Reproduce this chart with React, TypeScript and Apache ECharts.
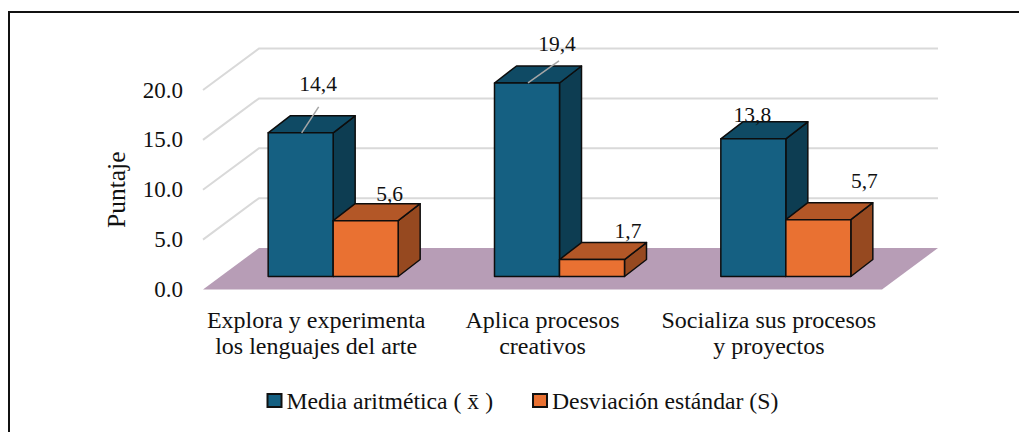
import React, { useEffect, useRef } from "react";
import * as echarts from "echarts";

const categories = [
  "Explora y experimenta\nlos lenguajes del arte",
  "Aplica procesos\ncreativos",
  "Socializa sus procesos\ny proyectos",
];
const mediaValues = [14.4, 19.4, 13.8];
const desviacionValues = [5.6, 1.7, 5.7];
const axisTicks = [5, 10, 15, 20];
const seriesNames = ["Media aritmética ( x̄ )", "Desviación estándar (S)"];

const FONT = "'Liberation Serif', 'Times New Roman', serif";
const DEPTH_X = 56;
const DEPTH_Y = -41.5;
const BAR_W = 65;
const BAR_DX = 22;
const BAR_DY = -17;
const BAR_INSET_X = 17;
const BAR_INSET_Y = -13;

// Manual label placement, as in the source chart: [dx, dy] from the bar's top-centre front edge
const mediaLabelNudge = [
  [17.5, -49],
  [30, -38.5],
  [-1, -24],
];
const desviacionLabelNudge = [
  [24, -27],
  [36, -29],
  [46, -38.5],
];
const mediaLeaders = [
  [17, -26],
  [31, -22],
  null,
];

function barRenderer(
  side: number,
  colors: string[],
  nudges: number[][],
  values: number[],
  leaders: (number[] | null)[],
) {
  return (_params: any, api: any) => {
    const i = api.value(0);
    const v = api.value(1);
    const base = api.coord([i, 0]);
    const top = api.coord([i, v]);
    const left = base[0] + BAR_INSET_X + (side === 0 ? -BAR_W : 0);
    const right = left + BAR_W;
    const yb = base[1] + BAR_INSET_Y;
    const yt = top[1] + BAR_INSET_Y;
    const stroke = { stroke: "#0d0d0d", lineWidth: 1.5, lineJoin: "round" };
    const cx = (left + right) / 2;
    const [nx, ny] = nudges[i];
    const children: any[] = [
      {
        type: "polygon",
        shape: { points: [[right, yb], [right + BAR_DX, yb + BAR_DY], [right + BAR_DX, yt + BAR_DY], [right, yt]] },
        style: { fill: colors[2], ...stroke },
      },
      {
        type: "polygon",
        shape: { points: [[left, yt], [left + BAR_DX, yt + BAR_DY], [right + BAR_DX, yt + BAR_DY], [right, yt]] },
        style: { fill: colors[1], ...stroke },
      },
      {
        type: "rect",
        shape: { x: left, y: yt, width: BAR_W, height: yb - yt },
        style: { fill: colors[0], ...stroke },
      },
    ];
    const leader = leaders[i];
    if (leader) {
      children.push({
        type: "line",
        shape: { x1: cx + 1, y1: yt, x2: cx + 1 + leader[0], y2: yt + leader[1] },
        style: { stroke: "#a6a6a6", lineWidth: 1.5 },
      });
    }
    children.push({
      type: "text",
      x: cx + nx,
      y: yt + ny,
      style: {
        text: values[i].toFixed(1).replace(".", ","),
        font: `21.5px ${FONT}`,
        fill: "#111",
        textAlign: "center",
        textVerticalAlign: "middle",
      },
    });
    return { type: "group", children };
  };
}

export default function App() {
  const ref = useRef<HTMLDivElement>(null);
  useEffect(() => {
    document.body.style.margin = "0";
    document.body.style.background = "#fff";
    const chart = echarts.init(ref.current!, undefined, { renderer: "svg" });
    const blue = ["#156082", "#0f4a64", "#0d3d52"];
    const orange = ["#e97132", "#b35727", "#964920"];
    chart.setOption({
      animation: false,
      backgroundColor: "#ffffff",
      grid: { left: 203, right: 137, top: 90, height: 199.5, containLabel: false },
      xAxis: {
        type: "category",
        data: categories,
        axisLine: { show: false },
        axisTick: { show: false },
        axisLabel: {
          color: "#111",
          fontFamily: FONT,
          fontSize: 24,
          lineHeight: 26,
          margin: 17,
          interval: 0,
        },
      },
      yAxis: {
        type: "value",
        min: 0,
        max: 20,
        interval: 5,
        name: "Puntaje",
        nameLocation: "middle",
        nameGap: 74,
        nameRotate: 90,
        nameTextStyle: { color: "#111", fontFamily: FONT, fontSize: 25.5 },
        axisLine: { show: false },
        axisTick: { show: false },
        splitLine: { show: false },
        axisLabel: {
          color: "#111",
          fontFamily: FONT,
          fontSize: 23,
          margin: 20,
          formatter: (v: number) => v.toFixed(1),
        },
      },
      legend: {
        left: 266.5,
        top: 388.5,
        padding: 0,
        itemWidth: 14,
        itemHeight: 13,
        itemGap: 39,
        data: seriesNames.map((name) => ({ name, icon: "rect" })),
        textStyle: { color: "#111", fontFamily: FONT, fontSize: 23.7 },
      },
      graphic: [
        {
          type: "rect",
          z: -10,
          shape: { x: 9, y: 12, width: 1060, height: 500 },
          style: { fill: "#fff", stroke: "#111", lineWidth: 2 },
        },
      ],
      series: [
        {
          type: "custom",
          name: "floor",
          silent: true,
          z: 1,
          clip: false,
          encode: { x: 0, y: 1 },
          data: [[0, 0]],
          renderItem: (_p: any, api: any) => {
            const a = api.coord([0, 0]);
            const w = api.size([1, 0])[0] * categories.length;
            const xl = a[0] - api.size([1, 0])[0] / 2;
            const y = a[1];
            return {
              type: "polygon",
              shape: {
                points: [[xl, y], [xl + w, y], [xl + w + DEPTH_X, y + DEPTH_Y], [xl + DEPTH_X, y + DEPTH_Y]],
              },
              style: { fill: "#b79db6" },
            };
          },
        },
        {
          type: "custom",
          name: "walls",
          silent: true,
          z: 2,
          clip: false,
          encode: { x: 0, y: 1 },
          data: axisTicks.map((t) => [0, t]),
          renderItem: (_p: any, api: any) => {
            const a = api.coord([0, api.value(1)]);
            const band = api.size([1, 0])[0];
            const xl = a[0] - band / 2;
            const w = band * categories.length;
            const y = a[1];
            return {
              type: "polyline",
              shape: {
                points: [[xl, y], [xl + DEPTH_X, y + DEPTH_Y], [xl + w + DEPTH_X, y + DEPTH_Y]],
              },
              style: { fill: "none", stroke: "#d9d9d9", lineWidth: 2 },
            };
          },
        },
        {
          type: "custom",
          name: seriesNames[0],
          z: 3,
          clip: false,
          itemStyle: { color: blue[0], borderColor: "#111", borderWidth: 1.5 },
          encode: { x: 0, y: 1 },
          data: mediaValues.map((v, i) => [i, v]),
          renderItem: barRenderer(0, blue, mediaLabelNudge, mediaValues, mediaLeaders),
        },
        {
          type: "custom",
          name: seriesNames[1],
          z: 4,
          clip: false,
          itemStyle: { color: orange[0], borderColor: "#111", borderWidth: 1.5 },
          encode: { x: 0, y: 1 },
          data: desviacionValues.map((v, i) => [i, v]),
          renderItem: barRenderer(1, orange, desviacionLabelNudge, desviacionValues, [null, null, null]),
        },
      ],
    });
    return () => chart.dispose();
  }, []);
  return <div ref={ref} style={{ width: 1019, height: 432 }} />;
}
